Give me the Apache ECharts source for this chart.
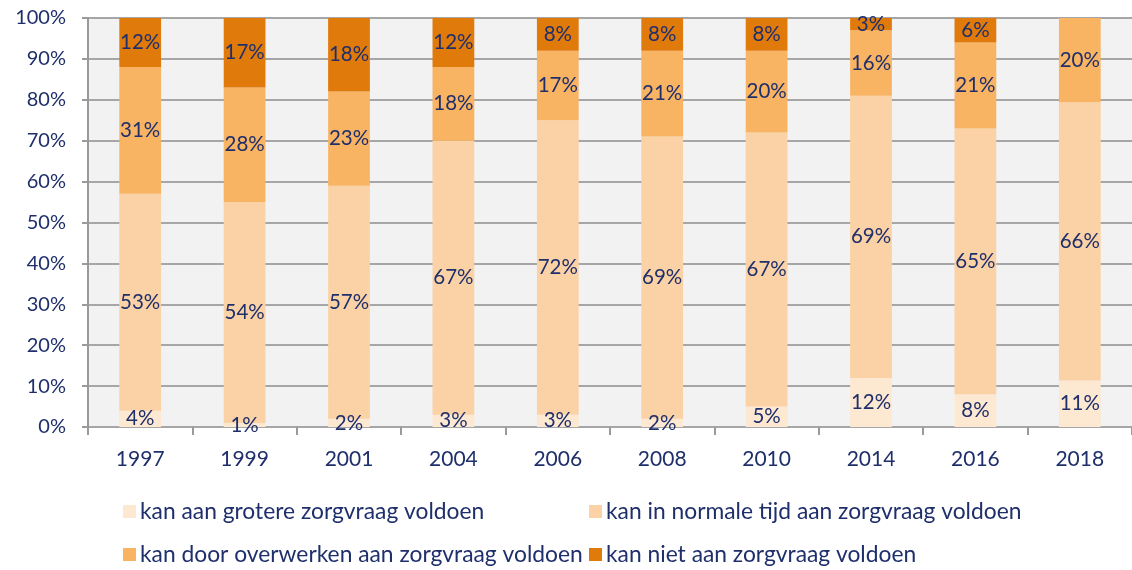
<!DOCTYPE html>
<html><head><meta charset="utf-8">
<script src="https://cdn.jsdelivr.net/npm/echarts@6/dist/echarts.min.js"></script>
<style>html,body{margin:0;padding:0;background:#fff}#c{width:1132px;height:570px}</style>
</head><body><div id="c"></div>
<script>
const categories = ['1997','1999','2001','2004','2006','2008','2010','2014','2016','2018'];
const seriesNames = ['kan aan grotere zorgvraag voldoen','kan in normale tijd aan zorgvraag voldoen','kan door overwerken aan zorgvraag voldoen','kan niet aan zorgvraag voldoen'];
const groter = [4,1,2,3,3,2,5,12,8,11];
const normaal = [53,54,57,67,72,69,67,69,65,66];
const overwerk = [31,28,23,18,17,21,20,16,21,20];
const niet = [12,17,18,12,8,8,8,3,6,0];
const yTicks = ['0%','10%','20%','30%','40%','50%','60%','70%','80%','90%','100%'];
const colors = ['#FDE8D2','#FBD2A5','#F8B363','#E07A0B'];

const raw = [groter, normaal, overwerk, niet];
const totals = categories.map((_, i) => raw.reduce((s, a) => s + a[i], 0));
const font = 'Lato, "Open Sans", sans-serif';
const txt = '#1F2F6B';

const chart = echarts.init(document.getElementById('c'), null, {renderer:'canvas'});
const series = raw.map((arr, k) => ({
  name: seriesNames[k], type: 'bar', stack: 'all', barWidth: '40%',
  itemStyle: {color: colors[k]},
  data: arr.map((v, i) => ({value: v / totals[i] * 100, raw: v})),
  label: {show: true, position: 'inside', color: txt, fontFamily: font, fontSize: 20.5,
    formatter: p => p.data.raw > 0 ? p.data.raw + '%' : ''},
  emphasis: {disabled: true}
}));
const legendPos = [[118,495],[584,495],[118,538],[584,538]];
chart.setOption({
  animation: false,
  grid: {left: 88, right: 0, top: 18, bottom: 143, show: true, backgroundColor: '#F2F2F2', borderWidth: 0},
  legend: seriesNames.map((n, k) => ({
    data: [n], left: legendPos[k][0], top: legendPos[k][1], icon: 'rect', itemWidth: 13, itemHeight: 13, itemGap: 0,
    textStyle: {color: txt, fontFamily: font, fontSize: 22.8, padding: [0,0,0,-1]}, selectedMode: false
  })),
  xAxis: {type: 'category', data: categories,
    axisLine: {show: false},
    axisTick: {show: true, length: 8, lineStyle: {color: '#9A9A9A', width: 2}},
    axisLabel: {color: txt, fontFamily: font, fontSize: 21, margin: 22}},
  yAxis: {type: 'value', min: 0, max: 100, interval: 10,
    axisLine: {show: true, lineStyle: {color: '#9A9A9A', width: 2}},
    axisTick: {show: true, length: 6, lineStyle: {color: '#9A9A9A', width: 2}},
    splitLine: {show: true, lineStyle: {color: '#A6A6A6', width: 2}},
    axisLabel: {color: txt, fontFamily: font, fontSize: 20, margin: 22, formatter: v => yTicks[v/10]}},
  series: series
});
</script></body></html>
